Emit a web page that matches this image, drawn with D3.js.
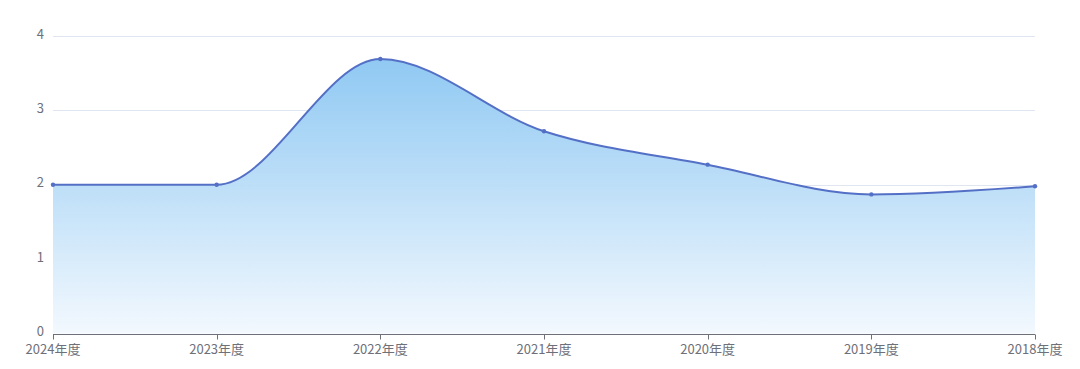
<!DOCTYPE html>
<html><head><meta charset="utf-8">
<script src="https://cdn.jsdelivr.net/npm/d3@7/dist/d3.min.js"></script>
<style>body{margin:0;background:#fff}svg{display:block}text{font-family:"Noto Sans CJK SC","Noto Sans",sans-serif}</style>
</head><body><svg id="c" width="1080" height="369"></svg>
<script>
const categories = ["2024年度","2023年度","2022年度","2021年度","2020年度","2019年度","2018年度"];
const values = [2.0, 2.0, 3.69, 2.72, 2.27, 1.87, 1.98];
const yTicks = [0, 1, 2, 3, 4];

const svg = d3.select("#c");
const L = 53, R = 1035, T = 36, B = 333.5;
const x = d3.scalePoint().domain(categories).range([L, R]);
const y = d3.scaleLinear().domain([0, 4]).range([B, T]);

const defs = svg.append("defs");
const grad = defs.append("linearGradient").attr("id","g").attr("x1",0).attr("y1",0).attr("x2",0).attr("y2",1);
grad.append("stop").attr("offset","0%").attr("stop-color","#8ac6f2");
grad.append("stop").attr("offset","100%").attr("stop-color","#f2f8fe");

svg.append("g").selectAll("line").data(yTicks.filter(d=>d>0)).join("line")
  .attr("x1", L).attr("x2", R).attr("y1", d=>Math.round(y(d))+0.5).attr("y2", d=>Math.round(y(d))+0.5)
  .attr("stroke", "#e0e6f1").attr("stroke-width", 1);

const curve = d3.curveMonotoneX;
const area = d3.area().x((d,i)=>x(categories[i])).y0(B).y1(d=>y(d)).curve(curve);
const line = d3.line().x((d,i)=>x(categories[i])).y(d=>y(d)).curve(curve);

svg.append("path").datum(values).attr("d", area).attr("fill","url(#g)").attr("opacity",0.95);

svg.append("g").selectAll("text").data(yTicks).join("text")
  .attr("x", 44).attr("y", d=>y(d) - 2).attr("dy","0.35em").attr("text-anchor","end")
  .attr("font-size", 13).attr("fill", "#6e7079").text(d=>d);

const xa = svg.append("g").attr("transform", `translate(0,${Math.round(B)+0.5})`);
xa.append("line").attr("x1", L).attr("x2", R).attr("stroke","#6e7079");
xa.selectAll("line.t").data(categories).join("line").attr("class","t")
  .attr("x1", d=>Math.round(x(d))+0.5).attr("x2", d=>Math.round(x(d))+0.5).attr("y1",0).attr("y2",5).attr("stroke","#6e7079");
xa.selectAll("text").data(categories).join("text")
  .attr("x", d=>x(d)).attr("y", 19.5).attr("text-anchor","middle")
  .attr("font-size", 13).attr("fill", "#6e7079").text(d=>d);

svg.append("path").datum(values).attr("d", line).attr("fill","none").attr("stroke","#5470c6").attr("stroke-width",2);
svg.append("g").selectAll("circle").data(values).join("circle")
  .attr("cx",(d,i)=>x(categories[i])).attr("cy", d=>y(d)).attr("r",2.2).attr("fill","#5470c6");
</script></body></html>
